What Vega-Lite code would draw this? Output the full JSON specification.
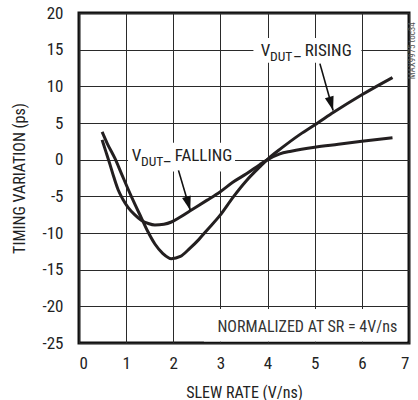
{
  "$schema": "https://vega.github.io/schema/vega-lite/v6.json",
  "width": 330,
  "height": 330,
  "autosize": {"type": "none"},
  "padding": {"left": 79, "top": 13, "right": 9, "bottom": 57},
  "background": "white",
  "config": {
    "font": "Roboto Condensed, Liberation Sans Narrow, DejaVu Sans Condensed, sans-serif",
    "view": {"stroke": "#111", "strokeWidth": 3},
    "axis": {
      "grid": true, "gridColor": "#2a2a2a", "gridWidth": 1, "gridOpacity": 1,
      "ticks": false, "domain": false,
      "labelFontSize": 17, "labelColor": "#222",
      "labelExpr": "replace(datum.label, '\u2212', '-')",
      "titleFontSize": 16, "titleFontWeight": "normal", "titleColor": "#222"
    }
  },
  "datasets": {
    "curves": [
      {"series": "rising", "x": 0.49, "y": 3.8},
      {"series": "rising", "x": 0.6, "y": 2.2},
      {"series": "rising", "x": 0.76, "y": 0.2},
      {"series": "rising", "x": 0.9, "y": -1.9},
      {"series": "rising", "x": 1.04, "y": -4.0},
      {"series": "rising", "x": 1.18, "y": -6.0},
      {"series": "rising", "x": 1.32, "y": -7.9},
      {"series": "rising", "x": 1.46, "y": -9.8},
      {"series": "rising", "x": 1.61, "y": -11.5},
      {"series": "rising", "x": 1.78, "y": -12.8},
      {"series": "rising", "x": 1.96, "y": -13.5},
      {"series": "rising", "x": 2.15, "y": -13.2},
      {"series": "rising", "x": 2.35, "y": -12.1},
      {"series": "rising", "x": 2.54, "y": -10.9},
      {"series": "rising", "x": 2.71, "y": -9.65},
      {"series": "rising", "x": 2.99, "y": -7.6},
      {"series": "rising", "x": 3.27, "y": -5.1},
      {"series": "rising", "x": 3.56, "y": -2.8},
      {"series": "rising", "x": 3.84, "y": -0.95},
      {"series": "rising", "x": 4.0, "y": 0.05},
      {"series": "rising", "x": 4.3, "y": 1.6},
      {"series": "rising", "x": 4.69, "y": 3.45},
      {"series": "rising", "x": 5.04, "y": 4.9},
      {"series": "rising", "x": 5.4, "y": 6.45},
      {"series": "rising", "x": 6.0, "y": 8.85},
      {"series": "rising", "x": 6.65, "y": 11.2},
      {"series": "falling", "x": 0.49, "y": 2.7},
      {"series": "falling", "x": 0.57, "y": 1.1},
      {"series": "falling", "x": 0.65, "y": -0.5},
      {"series": "falling", "x": 0.74, "y": -2.4},
      {"series": "falling", "x": 0.83, "y": -4.1},
      {"series": "falling", "x": 0.93, "y": -5.4},
      {"series": "falling", "x": 1.04, "y": -6.5},
      {"series": "falling", "x": 1.18, "y": -7.5},
      {"series": "falling", "x": 1.32, "y": -8.25},
      {"series": "falling", "x": 1.47, "y": -8.7},
      {"series": "falling", "x": 1.61, "y": -8.9},
      {"series": "falling", "x": 1.8, "y": -8.8},
      {"series": "falling", "x": 1.96, "y": -8.5},
      {"series": "falling", "x": 2.14, "y": -7.85},
      {"series": "falling", "x": 2.35, "y": -7.0},
      {"series": "falling", "x": 2.71, "y": -5.55},
      {"series": "falling", "x": 2.99, "y": -4.4},
      {"series": "falling", "x": 3.27, "y": -3.05},
      {"series": "falling", "x": 3.56, "y": -1.9},
      {"series": "falling", "x": 3.84, "y": -0.65},
      {"series": "falling", "x": 4.0, "y": 0.0},
      {"series": "falling", "x": 4.26, "y": 0.8},
      {"series": "falling", "x": 4.5, "y": 1.15},
      {"series": "falling", "x": 5.0, "y": 1.7},
      {"series": "falling", "x": 5.5, "y": 2.1},
      {"series": "falling", "x": 6.0, "y": 2.5},
      {"series": "falling", "x": 6.65, "y": 3.0}
    ],
    "boxes": [
      {"x": 3.7, "x2": 5.99, "y": 13.2, "y2": 16.6},
      {"x": 1.04, "x2": 3.31, "y": -1.6, "y2": 2.3},
      {"x": 2.65, "x2": 6.96, "y": -24.8, "y2": -20.35}
    ],
    "arrows": [
      {"x": 5.11, "y": 13.1, "x2": 5.39, "y2": 6.7},
      {"x": 2.11, "y": -1.46, "x2": 2.36, "y2": -6.9}
    ],
    "mainText": [
      {"t": "V", "x": 3.855, "y": 14.1},
      {"t": "_ RISING", "x": 4.56, "y": 14.1},
      {"t": "V", "x": 1.118, "y": -0.23},
      {"t": "_ FALLING", "x": 1.8, "y": -0.23}
    ],
    "subText": [
      {"t": "DUT", "x": 4.05, "y": 13.5},
      {"t": "DUT", "x": 1.315, "y": -0.8}
    ],
    "note": [
      {"t": "NORMALIZED AT SR = 4V/ns", "x": 6.75, "y": -23.5}
    ],
    "code": [
      {"t": "MAX9975 toc34", "x": 7.06, "y": 14.85}
    ]
  },
  "layer": [
    {
      "data": {"name": "boxes"},
      "mark": {"type": "rect", "fill": "white"},
      "encoding": {
        "x": {"field": "x", "type": "quantitative", "scale": {"domain": [0, 7], "nice": false, "zero": false},
              "axis": {"values": [0, 1, 2, 3, 4, 5, 6, 7], "title": "SLEW RATE (V/ns)", "labelPadding": 12, "titlePadding": 13}},
        "x2": {"field": "x2"},
        "y": {"field": "y", "type": "quantitative", "scale": {"domain": [-25, 20], "nice": false, "zero": false},
              "axis": {"values": [-25, -20, -15, -10, -5, 0, 5, 10, 15, 20], "title": "TIMING VARIATION (ps)", "labelPadding": 16, "titlePadding": 14}},
        "y2": {"field": "y2"}
      }
    },
    {
      "data": {"name": "curves"},
      "mark": {"type": "line", "interpolate": "monotone", "strokeWidth": 3, "color": "#231f20"},
      "encoding": {
        "x": {"field": "x", "type": "quantitative", "scale": {"domain": [0, 7], "nice": false, "zero": false},
              "axis": {"values": [0, 1, 2, 3, 4, 5, 6, 7], "title": "SLEW RATE (V/ns)", "labelPadding": 12, "titlePadding": 13}},
        "y": {"field": "y", "type": "quantitative", "scale": {"domain": [-25, 20], "nice": false, "zero": false},
              "axis": {"values": [-25, -20, -15, -10, -5, 0, 5, 10, 15, 20], "title": "TIMING VARIATION (ps)", "labelPadding": 16, "titlePadding": 14}},
        "detail": {"field": "series"}
      }
    },
    {
      "data": {"name": "arrows"},
      "mark": {"type": "rule", "strokeWidth": 1.6, "color": "#111"},
      "encoding": {
        "x": {"field": "x", "type": "quantitative", "scale": {"domain": [0, 7], "nice": false, "zero": false},
              "axis": {"values": [0, 1, 2, 3, 4, 5, 6, 7], "title": "SLEW RATE (V/ns)", "labelPadding": 12, "titlePadding": 13}},
        "x2": {"field": "x2"},
        "y": {"field": "y", "type": "quantitative", "scale": {"domain": [-25, 20], "nice": false, "zero": false},
              "axis": {"values": [-25, -20, -15, -10, -5, 0, 5, 10, 15, 20], "title": "TIMING VARIATION (ps)", "labelPadding": 16, "titlePadding": 14}},
        "y2": {"field": "y2"}
      }
    },
    {
      "data": {"name": "arrows"},
      "mark": {"type": "point", "shape": "M0,0L-0.45,-1.4L0.45,-1.4Z", "size": 400, "filled": true, "color": "#111", "opacity": 1, "angle": 344},
      "encoding": {
        "x": {"field": "x2", "type": "quantitative", "scale": {"domain": [0, 7], "nice": false, "zero": false},
              "axis": {"values": [0, 1, 2, 3, 4, 5, 6, 7], "title": "SLEW RATE (V/ns)", "labelPadding": 12, "titlePadding": 13}},
        "y": {"field": "y2", "type": "quantitative", "scale": {"domain": [-25, 20], "nice": false, "zero": false},
              "axis": {"values": [-25, -20, -15, -10, -5, 0, 5, 10, 15, 20], "title": "TIMING VARIATION (ps)", "labelPadding": 16, "titlePadding": 14}}
      }
    },
    {
      "data": {"name": "mainText"},
      "mark": {"type": "text", "align": "left", "baseline": "alphabetic", "fontSize": 17, "color": "#222"},
      "encoding": {
        "x": {"field": "x", "type": "quantitative", "scale": {"domain": [0, 7], "nice": false, "zero": false},
              "axis": {"values": [0, 1, 2, 3, 4, 5, 6, 7], "title": "SLEW RATE (V/ns)", "labelPadding": 12, "titlePadding": 13}},
        "y": {"field": "y", "type": "quantitative", "scale": {"domain": [-25, 20], "nice": false, "zero": false},
              "axis": {"values": [-25, -20, -15, -10, -5, 0, 5, 10, 15, 20], "title": "TIMING VARIATION (ps)", "labelPadding": 16, "titlePadding": 14}},
        "text": {"field": "t"}
      }
    },
    {
      "data": {"name": "subText"},
      "mark": {"type": "text", "align": "left", "baseline": "alphabetic", "fontSize": 13.5, "color": "#222"},
      "encoding": {
        "x": {"field": "x", "type": "quantitative", "scale": {"domain": [0, 7], "nice": false, "zero": false},
              "axis": {"values": [0, 1, 2, 3, 4, 5, 6, 7], "title": "SLEW RATE (V/ns)", "labelPadding": 12, "titlePadding": 13}},
        "y": {"field": "y", "type": "quantitative", "scale": {"domain": [-25, 20], "nice": false, "zero": false},
              "axis": {"values": [-25, -20, -15, -10, -5, 0, 5, 10, 15, 20], "title": "TIMING VARIATION (ps)", "labelPadding": 16, "titlePadding": 14}},
        "text": {"field": "t"}
      }
    },
    {
      "data": {"name": "note"},
      "mark": {"type": "text", "align": "right", "baseline": "alphabetic", "fontSize": 16, "color": "#333"},
      "encoding": {
        "x": {"field": "x", "type": "quantitative", "scale": {"domain": [0, 7], "nice": false, "zero": false},
              "axis": {"values": [0, 1, 2, 3, 4, 5, 6, 7], "title": "SLEW RATE (V/ns)", "labelPadding": 12, "titlePadding": 13}},
        "y": {"field": "y", "type": "quantitative", "scale": {"domain": [-25, 20], "nice": false, "zero": false},
              "axis": {"values": [-25, -20, -15, -10, -5, 0, 5, 10, 15, 20], "title": "TIMING VARIATION (ps)", "labelPadding": 16, "titlePadding": 14}},
        "text": {"field": "t"}
      }
    },
    {
      "data": {"name": "code"},
      "mark": {"type": "text", "align": "center", "baseline": "middle", "fontSize": 9, "angle": 270, "color": "#555"},
      "encoding": {
        "x": {"field": "x", "type": "quantitative", "scale": {"domain": [0, 7], "nice": false, "zero": false},
              "axis": {"values": [0, 1, 2, 3, 4, 5, 6, 7], "title": "SLEW RATE (V/ns)", "labelPadding": 12, "titlePadding": 13}},
        "y": {"field": "y", "type": "quantitative", "scale": {"domain": [-25, 20], "nice": false, "zero": false},
              "axis": {"values": [-25, -20, -15, -10, -5, 0, 5, 10, 15, 20], "title": "TIMING VARIATION (ps)", "labelPadding": 16, "titlePadding": 14}},
        "text": {"field": "t"}
      }
    }
  ]
}
